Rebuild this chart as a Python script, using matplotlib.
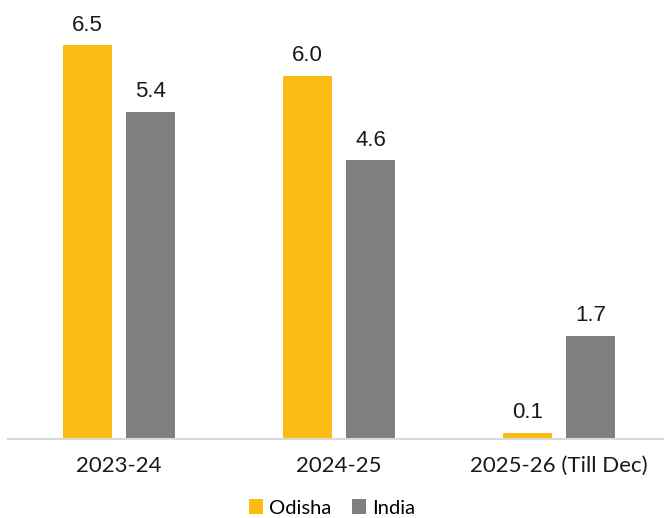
import numpy as np
import matplotlib.pyplot as plt

categories = ['2023-24', '2024-25', '2025-26 (Till Dec)']
odisha = [6.5, 6.0, 0.1]
india = [5.4, 4.6, 1.7]

yellow = '#FBBC13'
grey = '#7F7F7F'

fig = plt.figure(figsize=(6.64, 5.18), dpi=100)
ax = fig.add_axes([8 / 664, 79 / 518, 656 / 664, 436 / 518])

x = np.arange(len(categories))
w = 0.223
off = 0.143
b1 = ax.bar(x - off, odisha, w, color=yellow, label='Odisha')
b2 = ax.bar(x + off, india, w, color=grey, label='India')

for bars in (b1, b2):
    for rect in bars:
        ax.annotate(f'{rect.get_height():.1f}',
                    (rect.get_x() + rect.get_width() / 2, rect.get_height()),
                    xytext=(0, 7), textcoords='offset points',
                    ha='center', va='bottom', fontsize=16,
                    family='Liberation Sans', color='#1a1a1a')

ax.set_xlim(-0.505, 2.477)
ax.set_ylim(0, 7.2)
ax.set_xticks(x)
ax.set_xticklabels(categories, fontsize=16, family='Lato', color='#1a1a1a')
ax.tick_params(axis='x', length=0, pad=12)
ax.set_yticks([])
for s in ['top', 'right', 'left']:
    ax.spines[s].set_visible(False)
ax.spines['bottom'].set_color('#D9D9D9')
ax.spines['bottom'].set_linewidth(1.5)

fig.legend(loc='center', bbox_to_anchor=(0.5, 10 / 518), ncol=2, frameon=False,
           handlelength=0.7, handleheight=0.7, handletextpad=0.3, columnspacing=1.0,
           prop={'family': 'Lato', 'size': 14.5})

fig.savefig('out.png', dpi=100)
